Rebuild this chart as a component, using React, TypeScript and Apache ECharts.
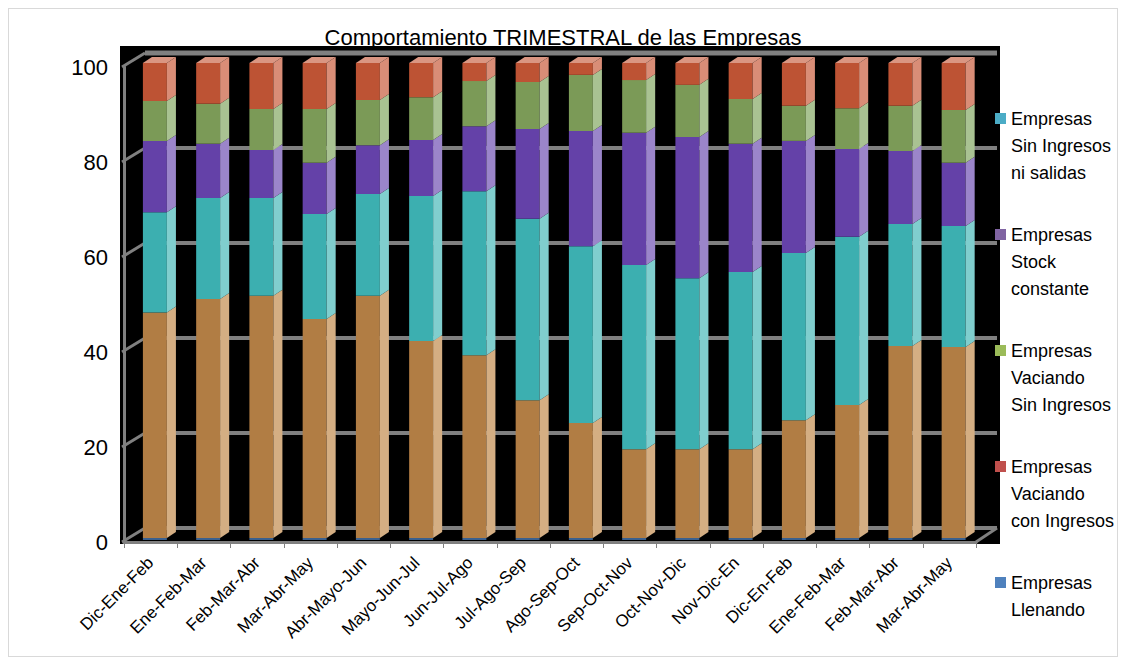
import React, { useEffect, useRef } from "react";
import * as echarts from "echarts";

const CATEGORIES = [
  "Dic-Ene-Feb", "Ene-Feb-Mar", "Feb-Mar-Abr", "Mar-Abr-May",
  "Abr-Mayo-Jun", "Mayo-Jun-Jul", "Jun-Jul-Ago", "Jul-Ago-Sep",
  "Ago-Sep-Oct", "Sep-Oct-Nov", "Oct-Nov-Dic", "Nov-Dic-En",
  "Dic-En-Feb", "Ene-Feb-Mar", "Feb-Mar-Abr", "Mar-Abr-May",
];

const LLENANDO = [47.5, 50.3, 51, 46.1, 51, 41.5, 38.5, 29, 24.2, 18.7, 18.7, 18.7, 24.8, 28, 40.4, 40.2];
const SIN_INGRESOS_NI_SALIDAS = [21.1, 21.3, 20.6, 22.1, 21.4, 30.5, 34.5, 38.2, 37.2, 38.8, 36, 37.3, 35.2, 35.4, 25.7, 25.5];
const STOCK_CONSTANTE = [15, 11.4, 10.1, 10.8, 10.3, 11.8, 13.7, 18.9, 24.3, 27.8, 29.7, 27, 23.6, 18.5, 15.4, 13.3];
const VACIANDO_SIN_INGRESOS = [8.4, 8.4, 8.6, 11.3, 9.5, 9, 9.5, 9.9, 11.8, 11.1, 11, 9.4, 7.4, 8.6, 9.5, 11.1];
const VACIANDO_CON_INGRESOS = [8, 8.6, 9.7, 9.7, 7.8, 7.2, 3.8, 4, 2.5, 3.6, 4.6, 7.6, 9, 9.5, 9, 9.9];

const Y_TICKS = [0, 20, 40, 60, 80, 100];

const SERIES_NAMES = [
  "Empresas Llenando",
  "Empresas Sin Ingresos ni salidas",
  "Empresas Stock constante",
  "Empresas Vaciando Sin Ingresos",
  "Empresas Vaciando con Ingresos",
];
const SERIES_VALUES = [LLENANDO, SIN_INGRESOS_NI_SALIDAS, STOCK_CONSTANTE, VACIANDO_SIN_INGRESOS, VACIANDO_CON_INGRESOS];

const LEGEND_ORDER = [
  "Empresas Sin Ingresos ni salidas",
  "Empresas Stock constante",
  "Empresas Vaciando Sin Ingresos",
  "Empresas Vaciando con Ingresos",
  "Empresas Llenando",
];
const LEGEND_LINES: Record<string, string> = {
  "Empresas Sin Ingresos ni salidas": "Empresas\nSin Ingresos\nni salidas",
  "Empresas Stock constante": "Empresas\nStock\nconstante",
  "Empresas Vaciando Sin Ingresos": "Empresas\nVaciando\nSin Ingresos",
  "Empresas Vaciando con Ingresos": "Empresas\nVaciando\ncon Ingresos",
  "Empresas Llenando": "Empresas\nLlenando\n ",
};

const FACES = [
  { front: "#B17D44", side: "#D4AE83", top: "#DDBC95", legend: "#4F81BD" },
  { front: "#3CAFB0", side: "#80CECE", top: "#9CD9D9", legend: "#4BACC6" },
  { front: "#6441A8", side: "#9B85CA", top: "#B3A2D6", legend: "#8064A2" },
  { front: "#7B9A57", side: "#A9C292", top: "#BFD2AC", legend: "#9BBB59" },
  { front: "#BD5334", side: "#D98D77", top: "#DA9682", legend: "#C0504D" },
];

const FRONT_DY = -4;
const WALL_DX = 21;
const WALL_DY = -14;
const GRAY = "#808080";

export default function App() {
  const ref = useRef<HTMLDivElement>(null);

  useEffect(() => {
    if (!ref.current) return;
    const chart = echarts.init(ref.current, null, { renderer: "svg" });

    const bases = CATEGORIES.map(() => 0);
    const segSeries = SERIES_VALUES.map((vals, k) => {
      const data = vals.map((v, i) => {
        const b = bases[i];
        bases[i] = b + v;
        return [i, b, b + v];
      });
      const face = FACES[k];
      const isTop = k === SERIES_VALUES.length - 1;
      const isBottom = k === 0;
      return {
        type: "custom",
        name: SERIES_NAMES[k],
        coordinateSystem: "cartesian2d",
        z: 3,
        itemStyle: { color: face.legend },
        encode: { x: 0, y: [1, 2] },
        data,
        renderItem: (params: any, api: any) => {
          const i = api.value(0);
          const b = api.value(1);
          const t = api.value(2);
          const cx = api.coord([i, 0])[0];
          const bw = api.size([1, 0])[0];
          const y0 = api.coord([i, b])[1] + FRONT_DY;
          const y1 = api.coord([i, t])[1] + FRONT_DY;
          const xl = cx - bw * 0.5 + bw * 0.355;
          const w = bw * 0.45;
          const xr = xl + w;
          const dx = bw * 0.17;
          const dy = -6;
          const children: any[] = [
            {
              type: "rect",
              shape: { x: xl, y: y1, width: w, height: y0 - y1 },
              style: { fill: face.front },
            },
            {
              type: "polygon",
              shape: { points: [[xr, y0], [xr, y1], [xr + dx, y1 + dy], [xr + dx, y0 + dy]] },
              style: { fill: face.side },
            },
          ];
          if (isTop) {
            children.push({
              type: "polygon",
              shape: { points: [[xl, y1], [xr, y1], [xr + dx, y1 + dy], [xl + dx, y1 + dy]] },
              style: { fill: face.top },
            });
          }
          if (isBottom) {
            children.push({
              type: "line",
              shape: { x1: xl, y1: y0 + 1, x2: xr, y2: y0 + 1 },
              style: { stroke: "#4F81BD", lineWidth: 1.5 },
            });
          }
          return { type: "group", children };
        },
      };
    });

    const wallSeries = {
      type: "custom",
      name: "wall",
      coordinateSystem: "cartesian2d",
      silent: true,
      z: 1,
      encode: { x: 0, y: 1 },
      data: Y_TICKS.map((v) => [0, v]),
      renderItem: (params: any, api: any) => {
        const cs = params.coordSys;
        const v = api.value(1);
        const y = api.coord([0, v])[1];
        const left = cs.x;
        const right = cs.x + cs.width;
        const children: any[] = [
          {
            type: "line",
            shape: { x1: left + WALL_DX, y1: y + WALL_DY, x2: right + WALL_DX, y2: y + WALL_DY },
            style: { stroke: GRAY, lineWidth: v === 100 ? 5 : 4 },
          },
          {
            type: "line",
            shape: { x1: left - 2, y1: y, x2: left + WALL_DX, y2: y + WALL_DY },
            style: { stroke: GRAY, lineWidth: 3 },
          },
        ];
        if (v === 0) {
          children.push({
            type: "line",
            shape: { x1: right, y1: y, x2: right + WALL_DX, y2: y + WALL_DY },
            style: { stroke: GRAY, lineWidth: 3 },
          });
        }
        return { type: "group", children };
      },
    };

    chart.setOption({
      animation: false,
      textStyle: { fontFamily: "Liberation Sans" },
      title: {
        text: "Comportamiento TRIMESTRAL de las Empresas",
        left: "center",
        top: 12,
        textStyle: { fontSize: 22, fontWeight: "normal", color: "#000", fontFamily: "Liberation Sans" },
      },
      graphic: [
        {
          type: "rect",
          z: -10,
          silent: true,
          shape: { x: 111, y: 37, width: 880, height: 498 },
          style: { fill: "#000" },
        },
      ],
      legend: {
        orient: "vertical",
        left: 986,
        top: 96,
        height: 560,
        padding: 0,
        itemWidth: 11,
        itemHeight: 81,
        itemGap: 35,
        icon: "path://M0,0M0,8L11,8L11,19L0,19ZM11,81",
        symbolKeepAspect: false,
        selectedMode: false,
        data: LEGEND_ORDER.map((n) => ({
          name: n,
          itemStyle: { color: FACES[SERIES_NAMES.indexOf(n)].legend, borderWidth: 0 },
        })),
        formatter: (n: string) => LEGEND_LINES[n],
        textStyle: { fontSize: 18, lineHeight: 27, color: "#000", fontFamily: "Liberation Sans" },
      },
      grid: { left: 115, top: 58, width: 852, height: 475 },
      xAxis: {
        type: "category",
        data: CATEGORIES,
        boundaryGap: true,
        axisLine: { show: true, lineStyle: { color: GRAY, width: 3 } },
        axisTick: { show: true, length: 6, lineStyle: { color: GRAY, width: 1 } },
        axisLabel: { interval: 0, rotate: 45, fontSize: 17, margin: 18, color: "#000", fontFamily: "Liberation Sans" },
        splitLine: { show: false },
      },
      yAxis: {
        type: "value",
        min: 0,
        max: 100,
        interval: 20,
        axisLine: { show: true, lineStyle: { color: GRAY, width: 3 } },
        axisTick: { show: false },
        axisLabel: { fontSize: 22, margin: 16, color: "#000", fontFamily: "Liberation Sans" },
        splitLine: { show: false },
      },
      series: [wallSeries, ...segSeries],
    });

    return () => chart.dispose();
  }, []);

  return (
    <div style={{ width: 1110, height: 649, border: "1px solid #d9d9d9", boxSizing: "border-box" }}>
      <div ref={ref} style={{ width: 1108, height: 647 }} />
    </div>
  );
}
